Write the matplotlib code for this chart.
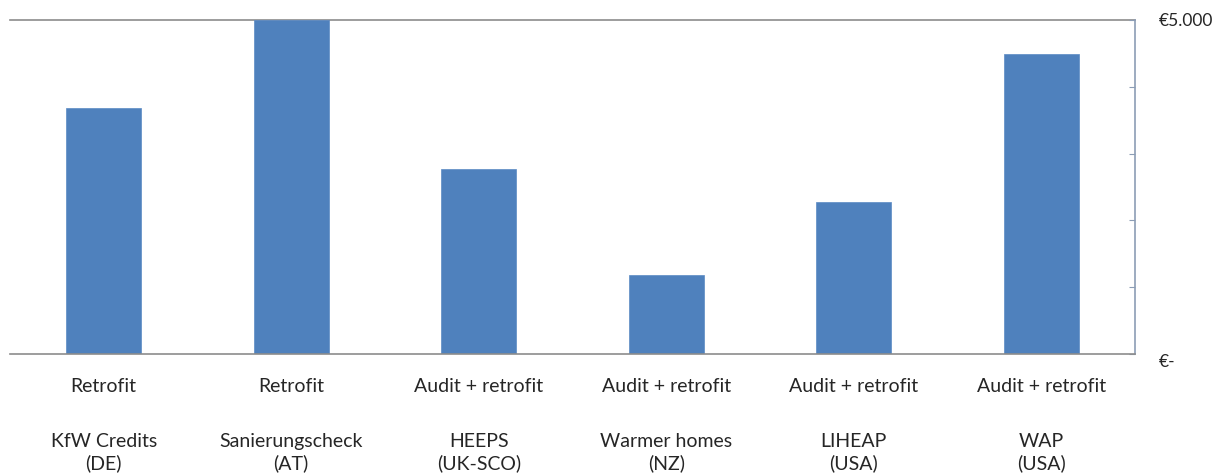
import numpy as np
import matplotlib
matplotlib.use('Agg')
import matplotlib.pyplot as plt
import matplotlib as mpl

mpl.rcParams['font.family'] = ['Lato', 'DejaVu Sans']

# data (EUR per home)
programmes = ['KfW Credits\n(DE)', 'Sanierungscheck\n(AT)', 'HEEPS\n(UK-SCO)',
              'Warmer homes\n(NZ)', 'LIHEAP\n(USA)', 'WAP\n(USA)']
measure = ['Retrofit', 'Retrofit', 'Audit + retrofit', 'Audit + retrofit',
           'Audit + retrofit', 'Audit + retrofit']
cost = [3680, 5000, 2770, 1180, 2275, 4490]

ymax = 5000
yticks = [0, 1000, 2000, 3000, 4000, 5000]
ytick_labels = ['€-', '', '', '', '', '€5.000']

bar_col = '#4F81BD'
text_col = '#262626'
axis_col = '#8C9DB5'

fig = plt.figure(figsize=(12.15, 4.76), dpi=100)
ax = fig.add_axes([10/1215, 1 - 354/476, 1125/1215, 334/476])

x = np.arange(len(programmes))
ax.bar(x, cost, width=0.4, color=bar_col, edgecolor='#5B8AC4', linewidth=0.5, zorder=2)

ax.set_xlim(-0.5, len(programmes) - 0.5)
ax.set_ylim(0, ymax)

# only the top gridline shows
ax.axhline(ymax, color='#8C8C8C', lw=1.2, zorder=1, clip_on=False)

for s in ['top', 'left']:
    ax.spines[s].set_visible(False)
ax.spines['bottom'].set_color('#8C8C8C')
ax.spines['bottom'].set_linewidth(1.2)
ax.spines['right'].set_color(axis_col)
ax.spines['right'].set_linewidth(1.2)

ax.yaxis.tick_right()
ax.set_yticks(yticks)
ax.set_yticklabels(ytick_labels)
ax.tick_params(axis='y', direction='in', length=4, color=axis_col, pad=17,
               labelsize=12.5, labelcolor=text_col)
ax.get_yticklabels()[0].set_va('top')

ax.set_xticks(x)
ax.set_xticklabels(measure)
ax.tick_params(axis='x', length=0, pad=17, labelsize=14, labelcolor=text_col)

for xi, name in zip(x, programmes):
    ax.annotate(name, xy=(xi, 0), xycoords=('data', 'axes fraction'),
                xytext=(0, -57), textcoords='offset points', ha='center', va='top',
                fontsize=14, color=text_col, linespacing=1.3, annotation_clip=False)

fig.savefig('out.png', dpi=100)
